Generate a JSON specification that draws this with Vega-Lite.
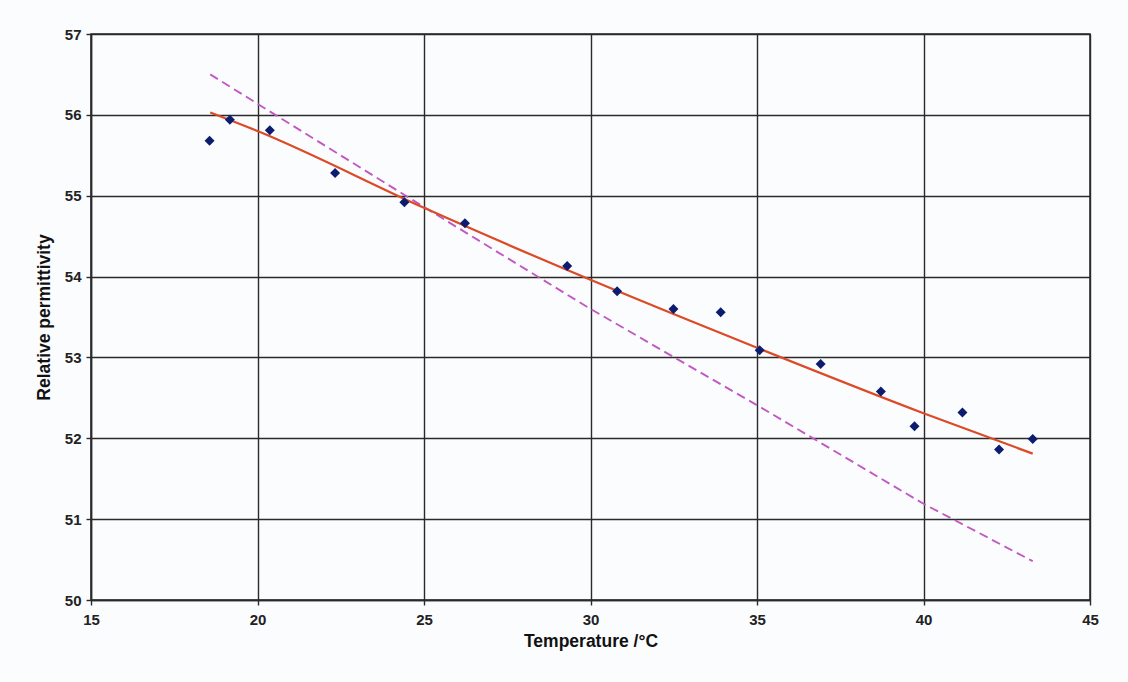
{
  "$schema": "https://vega.github.io/schema/vega-lite/v6.json",
  "width": 999,
  "height": 566,
  "autosize": {"type": "none"},
  "padding": {"left": 91, "top": 34, "right": 38, "bottom": 82},
  "background": "#fbfcfe",
  "config": {
    "view": {"stroke": "#222222", "strokeWidth": 1.5},
    "axis": {
      "labelFont": "Liberation Sans",
      "labelFontWeight": "bold",
      "labelFontSize": 15,
      "labelColor": "#222222",
      "titleFont": "Liberation Sans",
      "titleFontWeight": "bold",
      "titleFontSize": 17.5,
      "titleColor": "#111111",
      "gridColor": "#2a2a2a",
      "gridWidth": 1.4,
      "gridOpacity": 1,
      "domainColor": "#2a2a2a",
      "domainWidth": 1.5,
      "tickColor": "#2a2a2a",
      "tickWidth": 1.4,
      "tickSize": 5
    }
  },
  "datasets": {
    "measured": [
      {"t": 18.56, "eps": 55.68},
      {"t": 19.17, "eps": 55.94},
      {"t": 20.37, "eps": 55.81},
      {"t": 22.33, "eps": 55.28},
      {"t": 24.41, "eps": 54.92},
      {"t": 26.23, "eps": 54.66},
      {"t": 29.30, "eps": 54.13},
      {"t": 30.80, "eps": 53.82},
      {"t": 32.49, "eps": 53.60},
      {"t": 33.91, "eps": 53.56},
      {"t": 35.08, "eps": 53.09},
      {"t": 36.91, "eps": 52.92},
      {"t": 38.72, "eps": 52.58},
      {"t": 39.73, "eps": 52.15},
      {"t": 41.17, "eps": 52.32},
      {"t": 42.27, "eps": 51.86},
      {"t": 43.28, "eps": 51.99}
    ],
    "fit": [
      {"t": 18.58, "eps": 56.03},
      {"t": 20.0, "eps": 55.80},
      {"t": 25.0, "eps": 54.85},
      {"t": 30.0, "eps": 53.96},
      {"t": 35.0, "eps": 53.12},
      {"t": 40.0, "eps": 52.31},
      {"t": 43.28, "eps": 51.81}
    ],
    "reference": [
      {"t": 18.58, "eps": 56.50},
      {"t": 25.0, "eps": 54.86},
      {"t": 30.0, "eps": 53.60},
      {"t": 35.0, "eps": 52.41},
      {"t": 40.0, "eps": 51.19},
      {"t": 43.28, "eps": 50.48}
    ]
  },
  "encoding": {
    "x": {
      "field": "t",
      "type": "quantitative",
      "title": "Temperature /°C",
      "scale": {"domain": [15, 45], "nice": false, "zero": false},
      "axis": {
        "values": [15, 20, 25, 30, 35, 40, 45],
        "labelPadding": 7,
        "titlePadding": 5,
        "labelFlush": false
      }
    },
    "y": {
      "field": "eps",
      "type": "quantitative",
      "title": "Relative permittivity",
      "scale": {"domain": [50, 57], "nice": false, "zero": false},
      "axis": {
        "values": [50, 51, 52, 53, 54, 55, 56, 57],
        "labelPadding": 5,
        "titlePadding": 11,
        "labelFlush": false
      }
    }
  },
  "layer": [
    {
      "data": {"name": "reference"},
      "mark": {"type": "line", "color": "#c258c2", "strokeWidth": 1.9, "strokeDash": [9, 5]}
    },
    {
      "data": {"name": "fit"},
      "mark": {"type": "line", "color": "#dc4a26", "strokeWidth": 2.2, "interpolate": "monotone"}
    },
    {
      "data": {"name": "measured"},
      "mark": {"type": "point", "shape": "diamond", "filled": true, "color": "#0c1d70", "opacity": 1, "size": 100}
    }
  ]
}
